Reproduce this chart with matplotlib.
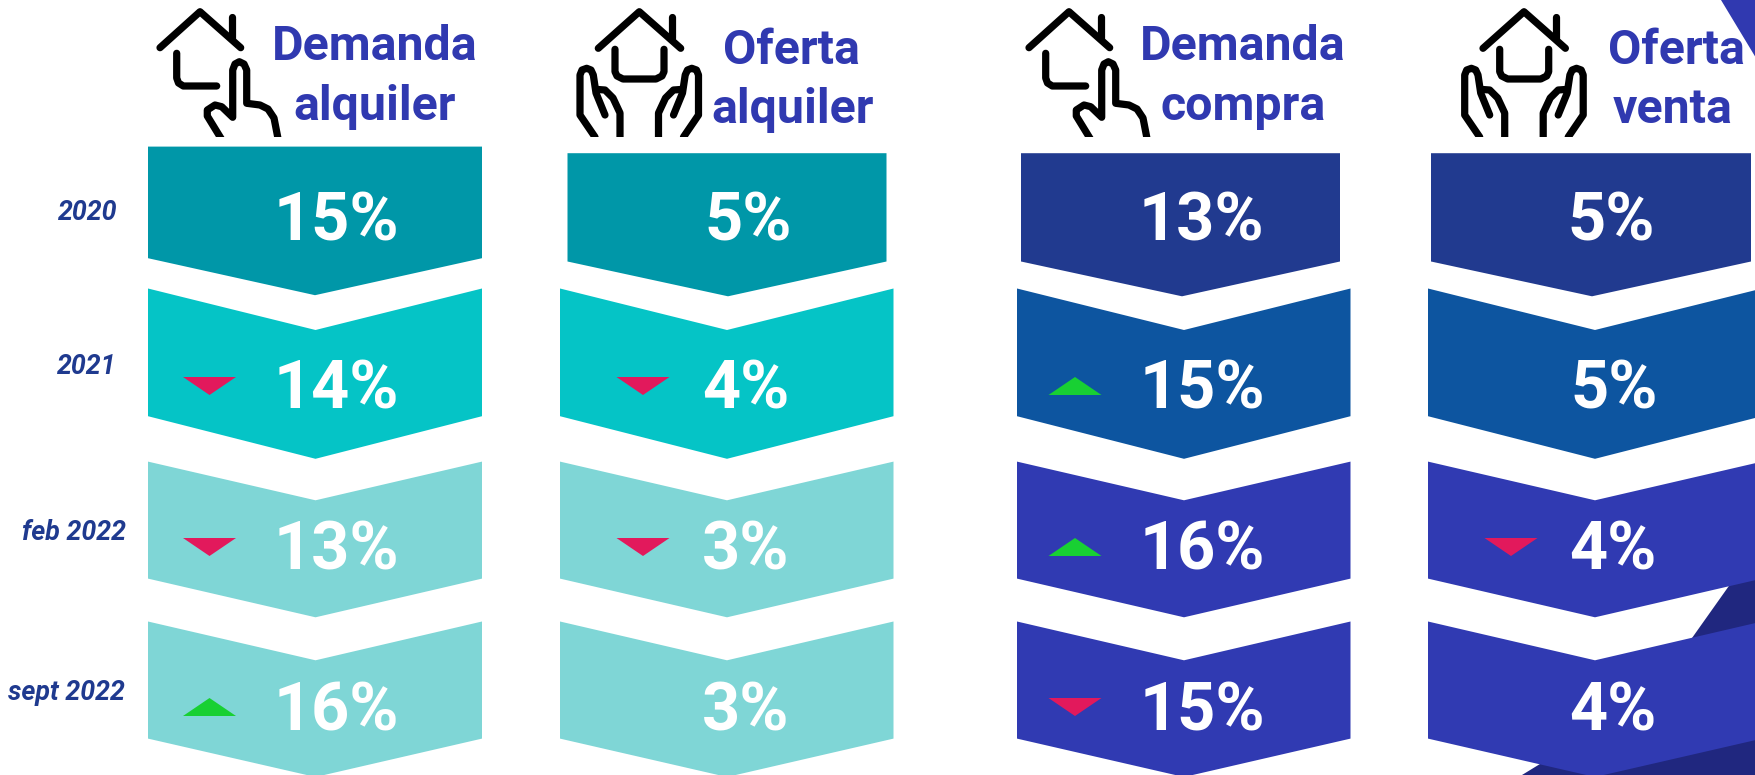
#!/usr/bin/env python3
import matplotlib
matplotlib.use('Agg')
import matplotlib.pyplot as plt
from matplotlib.patches import Polygon, Rectangle
import numpy as np

periods = ['2020', '2021', 'feb 2022', 'sept 2022']
headers = [('Demanda', 'alquiler'), ('Oferta', 'alquiler'), ('Demanda', 'compra'), ('Oferta', 'venta')]
demanda_alquiler = [15, 14, 13, 16]
oferta_alquiler = [5, 4, 3, 3]
demanda_compra = [13, 15, 16, 15]
oferta_venta = [5, 5, 4, 4]
series = [demanda_alquiler, oferta_alquiler, demanda_compra, oferta_venta]

# layout, in pixels of the 1756x775 picture
teal = ['#0097a8', '#05c4c6', '#7fd6d6', '#7fd6d6']
blue = ['#213a8f', '#0d55a0', '#303ab2', '#303ab2']
col_colors = [teal, teal, blue, blue]
first_x = [(148, 482, 315), (567.5, 886.5, 728), (1021, 1340, 1182), (1431, 1751, 1592)]
other_x = [(148, 482, 315.5), (560, 893.5, 727), (1017, 1350.5, 1184), (1428, 1762, 1595)]
first_y = [(146.6, 258.2, 295.2), (153.2, 261.5, 296.3), (153.2, 261.5, 296.3), (153.2, 261.5, 296.3)]
other_y = [(288.5, 330, 416.2, 458.8), (461.6, 500.3, 578.6, 617.3), (621.5, 660.3, 738.6, 777)]
value_x = [[336, 336, 336, 336], [748, 746, 746, 746], [1201.5, 1202.5, 1202.5, 1202.5],
           [1611, 1614, 1613, 1613]]
value_y = [215.5, 383.5, 544.5, 705.5]
arrow_x = [209.5, 643, 1075, 1511]
arrow_y = [0, 386, 547, 707]
period_xy = [(88, 209), (87, 364), (74, 529.5), (66.5, 689)]
header_xy = [[(375, 42.5), (375, 101.5)], [(791, 46), (793, 105)], [(1242.5, 42), (1243.5, 101.5)],
             [(1676, 46), (1672.5, 105)]]

# icons, drawn as strokes
roof = [(160, 47.7), (200, 11.7), (240.7, 47.7)]
chimney = [(231.7, 17.3), (231.7, 38)]
wall = [(176.7, 53.3), (176.7, 78), (178.5, 83), (183.3, 86), (216.7, 86)]
finger = [(222, 140), (207.3, 116), (207.3, 110), (215, 105), (221.7, 106.7), (232.7, 117.3), (232.7, 70),
          (235, 64), (239.3, 61.7), (244, 64), (246.7, 70), (246.7, 103.3), (260, 105), (268, 109),
          (274, 118), (278.3, 140)]
pointer_icon = [roof, chimney, wall, finger]

roof2 = [(598.3, 48.3), (639.3, 11.7), (680.7, 48.3)]
chimney2 = [(671.7, 16.7), (671.7, 38.3)]
wall2 = [(615, 49.3), (615, 71.7), (617, 76), (623, 79), (656, 79), (662, 76), (664, 71.7), (664, 49.3)]
hand_l = [(595, 137), (580, 115), (580, 75), (582, 70), (586.7, 68.3), (591, 70), (593.3, 75), (596, 93),
          (605, 115)]
hand_l2 = [(598, 89.5), (605, 90), (613, 98), (620, 113), (620, 137)]
hand_r = [(1278.5 - x, y) for x, y in hand_l]
hand_r2 = [(1278.5 - x, y) for x, y in hand_l2]
hands_icon = [roof2, chimney2, wall2, hand_l, hand_l2, hand_r, hand_r2]

fig = plt.figure(figsize=(17.56, 7.75), dpi=100)
ax = fig.add_axes([0, 0, 1, 1])
ax.set_xlim(0, 1756)
ax.set_ylim(775, 0)
ax.axis('off')

# background corner shapes
ax.add_patch(Polygon([(1721, 0), (1756, 0), (1756, 58)], color='#3039b0', lw=0))
ax.add_patch(Polygon([(1770, 528), (1692, 638), (1620, 715), (1522, 775), (1756, 775)], color='#20277f', lw=0))

clip = Rectangle((0, 0), 1756, 137, transform=ax.transData)


def draw_icon(strokes, dx):
    for s in strokes:
        pts = np.array(s)
        line, = ax.plot(pts[:, 0] + dx, pts[:, 1], color='black', lw=5.2, solid_joinstyle='round',
                        solid_capstyle='round')
        line.set_clip_path(clip)


draw_icon(pointer_icon, 0)
draw_icon(hands_icon, 0)
draw_icon(pointer_icon, 869)
draw_icon(hands_icon, 884.7)

for c, vals in enumerate(series):
    changes = np.sign(np.diff(vals))
    for r, v in enumerate(vals):
        if r == 0:
            l, rt, tx = first_x[c]
            top, side, tip = first_y[c]
            pts = [(l, top), (rt, top), (rt, side), (tx, tip), (l, side)]
        else:
            l, rt, tx = other_x[c]
            top, notch, side, tip = other_y[r - 1]
            pts = [(l, top), (tx, notch), (rt, top), (rt, side), (tx, tip), (l, side)]
        ax.add_patch(Polygon(pts, color=col_colors[c][r], lw=0, zorder=2))
        ax.text(value_x[c][r], value_y[r], '%d%%' % v, color='white', ha='center', va='center_baseline',
                family='Roboto', weight='bold', fontsize=48, zorder=4)
        if r > 0 and changes[r - 1] != 0:
            ax_x = arrow_x[c]
            ay = arrow_y[r]
            if changes[r - 1] < 0:
                tri = [(ax_x - 26.5, ay - 9), (ax_x + 26.5, ay - 9), (ax_x, ay + 9)]
                col = '#e2195c'
            else:
                tri = [(ax_x - 26.5, ay + 9), (ax_x + 26.5, ay + 9), (ax_x, ay - 9)]
                col = '#18d033'
            ax.add_patch(Polygon(tri, color=col, lw=0, zorder=3))
    for (hx, hy), word in zip(header_xy[c], headers[c]):
        ax.text(hx, hy, word, color='#3039b0', ha='center', va='center_baseline', family='Roboto',
                weight='bold', fontsize=34.8, zorder=5)

for (px, py), label in zip(period_xy, periods):
    ax.text(px, py, label, color='#1f3a8f', ha='center', va='center_baseline', family='Roboto',
            weight='bold', style='italic', fontsize=19.3)

fig.savefig('out.png', dpi=100)
